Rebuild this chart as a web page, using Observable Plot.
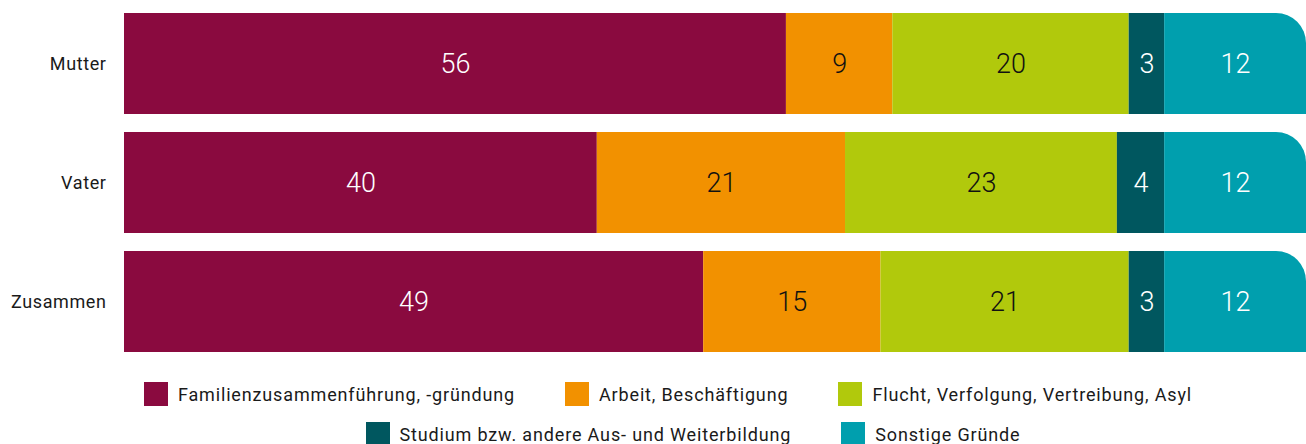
<!DOCTYPE html>
<html>
<head>
<meta charset="utf-8">
<script src="https://cdn.jsdelivr.net/npm/d3@7"></script>
<script src="https://cdn.jsdelivr.net/npm/@observablehq/plot@0.6"></script>
<style>
  html, body { margin: 0; padding: 0; background: #fff; }
  body { width: 1306px; height: 444px; overflow: hidden; font-family: Roboto, "Noto Sans", sans-serif; }
  #chart svg { display: block; }
  .legend-row { display: flex; justify-content: center; align-items: center; gap: 50px; height: 40px; font-size: 18px; letter-spacing: 0.85px; color: #1a1a1a; }
  .item { display: flex; align-items: center; }
  .sw { width: 24px; height: 24px; margin-right: 10px; flex: none; }
</style>
</head>
<body>
<div id="chart"></div>
<div id="legend"></div>
<script>
const rows = ["Mutter", "Vater", "Zusammen"];
const categories = [
  "Familienzusammenführung, -gründung",
  "Arbeit, Beschäftigung",
  "Flucht, Verfolgung, Vertreibung, Asyl",
  "Studium bzw. andere Aus- und Weiterbildung",
  "Sonstige Gründe"
];
const colors = ["#8a0a3f", "#f29100", "#b1c90c", "#00575f", "#009fae"];
const textColors = ["#ffffff", "#111111", "#111111", "#ffffff", "#ffffff"];
const valuesMutter = [56, 9, 20, 3, 12];
const valuesVater = [40, 21, 23, 4, 12];
const valuesZusammen = [49, 15, 21, 3, 12];

const seriesByRow = [valuesMutter, valuesVater, valuesZusammen];
const data = [];
rows.forEach((r, i) => categories.forEach((c, j) => data.push({row: r, cat: c, value: seriesByRow[i][j]})));

const plot = Plot.plot({
  width: 1306,
  height: 368,
  marginLeft: 124,
  marginRight: 0,
  marginTop: 12,
  marginBottom: 15,
  x: {domain: [0, 100], axis: null},
  y: {domain: rows, padding: 0.15, paddingOuter: 0, label: null, axis: null},
  color: {domain: categories, range: colors},
  style: {fontFamily: "Roboto, 'Noto Sans', sans-serif", color: "#1a1a1a"},
  marks: [
    Plot.barX(data, Plot.stackX({x: "value", y: "row", z: "cat", fill: "cat", order: null})),
    Plot.text(data, Plot.stackX({
      x: "value", y: "row", z: "cat", order: null,
      text: d => String(d.value),
      fill: d => textColors[categories.indexOf(d.cat)],
      fontSize: 27, fontWeight: 300
    })),
    Plot.axisY({tickSize: 0, tickPadding: 18, fontSize: 18, label: null, fill: "#1a1a1a"})
  ]
});
document.getElementById("chart").appendChild(plot);
d3.select(plot).selectAll("[aria-label='y-axis tick label'] text, g[aria-label='y-axis tick label']").style("letter-spacing", "0.6px");

// round the top-right corner of the last segment in each bar
const lastColor = colors[colors.length - 1];
d3.select(plot).selectAll("rect").each(function() {
  const el = d3.select(this);
  if ((el.attr("fill") || "").toLowerCase() !== lastColor) return;
  const x = +el.attr("x"), y = +el.attr("y"), w = +el.attr("width"), h = +el.attr("height");
  const r = Math.min(30, w / 2, h / 2);
  const p = `M${x},${y + h}V${y}H${x + w - r}A${r},${r} 0 0 1 ${x + w},${y + r}V${y + h}Z`;
  const path = document.createElementNS("http://www.w3.org/2000/svg", "path");
  path.setAttribute("d", p);
  path.setAttribute("fill", lastColor);
  this.parentNode.replaceChild(path, this);
});

// legend
const legend = document.getElementById("legend");
legend.style.marginTop = "6px";
const rowsLegend = [[0, 1, 2], [3, 4]];
const pads = [30, 80];
rowsLegend.forEach((idxs, k) => {
  const div = document.createElement("div");
  div.className = "legend-row";
  div.style.paddingLeft = pads[k] + "px";
  idxs.forEach(i => {
    const it = document.createElement("div");
    it.className = "item";
    const sw = document.createElement("span");
    sw.className = "sw";
    sw.style.background = colors[i];
    const t = document.createElement("span");
    t.textContent = categories[i];
    it.appendChild(sw); it.appendChild(t);
    div.appendChild(it);
  });
  legend.appendChild(div);
});
</script>
</body>
</html>
